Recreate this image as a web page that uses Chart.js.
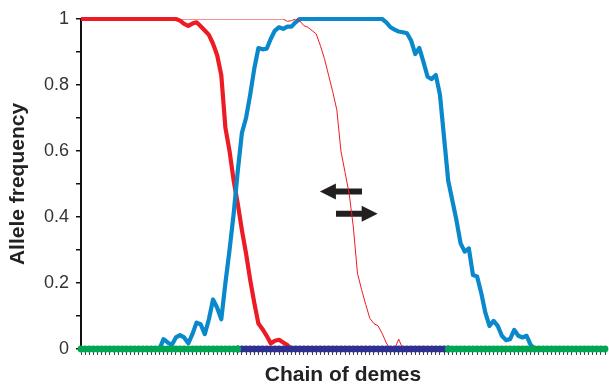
<!DOCTYPE html>
<html>
<head>
<meta charset="utf-8">
<script src="https://cdn.jsdelivr.net/npm/chart.js@4/dist/chart.umd.min.js"></script>
<style>
    body { margin: 0; background: #fff; }
    #wrap { width: 609px; height: 386px; }
</style>
</head>
<body>
<div id="wrap"><canvas id="chart" width="609" height="386"></canvas></div>
<script>
// demes along the chain (x axis, no labels shown)
const DEMES = Array.from({ length: 128 }, (_, i) => i + 1);

// thick red: allele frequency, first allele
const RED_THICK = [
    1, 1, 1, 1, 1, 1, 1, 1, 1, 1, 1, 1, 1, 1, 1, 1,
    1, 1, 1, 1, 1, 1, 1, 1, 0.995, 0.985, 0.979, 0.986, 0.99, 0.978, 0.965, 0.952,
    0.925, 0.89, 0.83, 0.67, 0.6, 0.51, 0.44, 0.36, 0.29, 0.21, 0.14, 0.077, 0.06, 0.04, 0.017, 0.025,
    0.028, 0.02, 0.012, 0, 0, 0, 0, 0, 0, 0, 0, 0, 0, 0, 0, 0,
    0, 0, 0, 0, 0, 0, 0, 0, 0, 0, 0, 0, 0, 0, 0, 0,
    0, 0, 0, 0, 0, 0, 0, 0, 0, 0, 0, 0, 0, 0, 0, 0,
    0, 0, 0, 0, 0, 0, 0, 0, 0, 0, 0, 0, 0, 0, 0, 0,
    0, 0, 0, 0, 0, 0, 0, 0, 0, 0, 0, 0, 0, 0, 0, 0
];

// thin red: same allele, later generation
const RED_THIN = [
    1, 1, 1, 1, 1, 1, 1, 1, 1, 1, 1, 1, 1, 1, 1, 1,
    1, 1, 1, 1, 1, 1, 1, 1, 1, 1, 1, 1, 1, 1, 1, 1,
    1, 1, 1, 1, 1, 1, 1, 1, 1, 1, 1, 1, 1, 1, 1, 1,
    1, 1, 0.993, 0.995, 1, 0.995, 0.98, 0.975, 0.965, 0.955, 0.92, 0.88, 0.83, 0.78, 0.725, 0.6,
    0.535, 0.47, 0.37, 0.23, 0.18, 0.135, 0.093, 0.077, 0.07, 0.047, 0.018, 0, 0, 0.03, 0, 0,
    0, 0, 0, 0, 0, 0, 0, 0, 0, 0, 0, 0, 0, 0, 0, 0,
    0, 0, 0, 0, 0, 0, 0, 0, 0, 0, 0, 0, 0, 0, 0, 0,
    0, 0, 0, 0, 0, 0, 0, 0, 0, 0, 0, 0, 0, 0, 0, 0
];

// thick blue: second allele
const BLUE = [
    0, 0, 0, 0, 0, 0, 0, 0, 0, 0, 0, 0, 0, 0, 0, 0,
    0, 0, 0, 0, 0.03, 0.02, 0.012, 0.035, 0.042, 0.035, 0.017, 0.045, 0.08, 0.075, 0.045, 0.09,
    0.15, 0.125, 0.09, 0.2, 0.3, 0.41, 0.54, 0.655, 0.7, 0.77, 0.85, 0.912, 0.908, 0.91, 0.94, 0.965,
    0.975, 0.97, 0.977, 0.977, 0.99, 1, 1, 1, 1, 1, 1, 1, 1, 1, 1, 1,
    1, 1, 1, 1, 1, 1, 1, 1, 1, 1, 0.99, 0.975, 0.968, 0.962, 0.96, 0.957,
    0.935, 0.894, 0.912, 0.87, 0.825, 0.818, 0.83, 0.77, 0.64, 0.51, 0.45, 0.39, 0.32, 0.295, 0.305, 0.224,
    0.22, 0.17, 0.11, 0.07, 0.085, 0.07, 0.04, 0.027, 0.03, 0.058, 0.04, 0.035, 0.04, 0.012, 0, 0,
    0, 0, 0, 0, 0, 0, 0, 0, 0, 0, 0, 0, 0, 0, 0, 0
];

// habitat zones along the chain (green outer demes, blue middle demes)
const OUTER_ZONE = [
    0, 0, 0, 0, 0, 0, 0, 0, 0, 0, 0, 0, 0, 0, 0, 0,
    0, 0, 0, 0, 0, 0, 0, 0, 0, 0, 0, 0, 0, 0, 0, 0,
    0, 0, 0, 0, 0, 0, 0, null, null, null, null, null, null, null, null, null,
    null, null, null, null, null, null, null, null, null, null, null, null, null, null, null, null,
    null, null, null, null, null, null, null, null, null, null, null, null, null, null, null, null,
    null, null, null, null, null, null, null, null, null, 0, 0, 0, 0, 0, 0, 0,
    0, 0, 0, 0, 0, 0, 0, 0, 0, 0, 0, 0, 0, 0, 0, 0,
    0, 0, 0, 0, 0, 0, 0, 0, 0, 0, 0, 0, 0, 0, 0, 0
];
const MIDDLE_ZONE = [
    null, null, null, null, null, null, null, null, null, null, null, null, null, null, null, null,
    null, null, null, null, null, null, null, null, null, null, null, null, null, null, null, null,
    null, null, null, null, null, null, 0, 0, 0, 0, 0, 0, 0, 0, 0, 0,
    0, 0, 0, 0, 0, 0, 0, 0, 0, 0, 0, 0, 0, 0, 0, 0,
    0, 0, 0, 0, 0, 0, 0, 0, 0, 0, 0, 0, 0, 0, 0, 0,
    0, 0, 0, 0, 0, 0, 0, 0, 0, 0, null, null, null, null, null, null,
    null, null, null, null, null, null, null, null, null, null, null, null, null, null, null, null,
    null, null, null, null, null, null, null, null, null, null, null, null, null, null, null, null
];

// the two arrows (deme index from -> to, frequency level)
const ARROW_FROM = [68.1, 61.8];
const ARROW_TO = [57.9, 71.9];
const ARROW_LEVEL = [0.477, 0.41];

const FONT = "'Liberation Sans', Arial, sans-serif";

// draw arrows under the curves
const arrowPlugin = {
    id: 'arrows',
    beforeDatasetsDraw(chart) {
        const { ctx, scales: { x, y } } = chart;
        ctx.save();
        ctx.fillStyle = '#231f20';
        ARROW_FROM.forEach((from, i) => {
            const x0 = x.getPixelForValue(from);
            const x1 = x.getPixelForValue(ARROW_TO[i]);
            const yy = y.getPixelForValue(ARROW_LEVEL[i]);
            const dir = Math.sign(x1 - x0);
            const xb = x1 - dir * 16;
            ctx.beginPath();
            ctx.moveTo(x0, yy - 3);
            ctx.lineTo(xb, yy - 3);
            ctx.lineTo(xb, yy - 8);
            ctx.lineTo(x1, yy);
            ctx.lineTo(xb, yy + 8);
            ctx.lineTo(xb, yy + 3);
            ctx.lineTo(x0, yy + 3);
            ctx.closePath();
            ctx.fill();
        });
        ctx.restore();
    }
};

const zoneStyle = color => ({
    borderColor: color,
    backgroundColor: color,
    borderWidth: 5,
    pointRadius: 3.4,
    pointBorderWidth: 0,
    spanGaps: false,
    clip: false
});

new Chart(document.getElementById('chart'), {
    type: 'line',
    data: {
        labels: DEMES,
        datasets: [
            { data: OUTER_ZONE, ...zoneStyle('#00a651') },
            { data: MIDDLE_ZONE, ...zoneStyle('#2e3192') },
            { data: RED_THIN, borderColor: '#ed1c24', borderWidth: 1, pointRadius: 0 },
            { data: BLUE, borderColor: '#0a88cc', borderWidth: 4.2, pointRadius: 0, borderJoinStyle: 'round', clip: 4 },
            { data: RED_THICK, borderColor: '#ed1c24', borderWidth: 4.2, pointRadius: 0, borderJoinStyle: 'round', clip: 4 }
        ]
    },
    options: {
        responsive: false,
        animation: false,
        layout: { padding: { top: 19, right: 2, left: 0, bottom: 0 } },
        elements: { line: { tension: 0 } },
        plugins: {
            legend: { display: false },
            tooltip: { enabled: false }
        },
        scales: {
            x: {
                type: 'category',
                offset: false,
                border: { display: false },
                grid: { drawOnChartArea: false, drawTicks: true, tickLength: 6, color: '#444', lineWidth: 1 },
                ticks: { autoSkip: false, maxRotation: 0, callback: () => '', font: { size: 1 } },
                title: {
                    display: true,
                    text: 'Chain of demes',
                    color: '#222',
                    font: { family: FONT, size: 21, weight: 'bold', lineHeight: 1 },
                    padding: { top: 0, bottom: 0 }
                },
                afterFit(scale) { scale.height = 37; }
            },
            y: {
                min: 0,
                max: 1,
                border: { display: true, color: '#111', width: 2 },
                grid: { drawOnChartArea: false, drawTicks: true, tickLength: 5, color: '#111', lineWidth: 1.5 },
                ticks: {
                    stepSize: 0.1,
                    padding: 7,
                    color: '#333',
                    font: { family: FONT, size: 18 },
                    callback: v => (Math.round(v * 10) % 2 === 0 ? String(Math.round(v * 10) / 10) : '')
                },
                title: {
                    display: true,
                    text: 'Allele frequency',
                    color: '#222',
                    font: { family: FONT, size: 21, weight: 'bold', lineHeight: 1 },
                    padding: { top: 8, bottom: 0 }
                },
                afterFit(scale) { scale.width = 81; }
            }
        }
    },
    plugins: [arrowPlugin]
});
</script>
</body>
</html>
